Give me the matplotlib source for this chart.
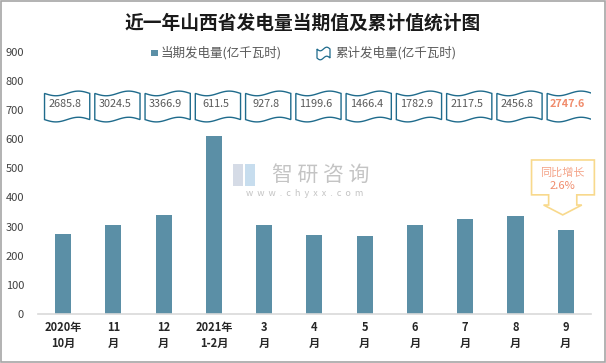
import numpy as np
import matplotlib
matplotlib.use("Agg")
import matplotlib.pyplot as plt
from matplotlib.path import Path
from matplotlib.patches import PathPatch, Rectangle, Polygon

plt.rcParams['font.family'] = ['Noto Sans CJK SC', 'DejaVu Sans']

# 数据
months = ['2020年\n10月', '11\n月', '12\n月', '2021年\n1-2月', '3\n月', '4\n月',
          '5\n月', '6\n月', '7\n月', '8\n月', '9\n月']
current = [274, 305, 339, 611.5, 306, 272, 268, 306, 326, 337, 288]
cumulative = ['2685.8', '3024.5', '3366.9', '611.5', '927.8', '1199.6',
              '1466.4', '1782.9', '2117.5', '2456.8', '2747.6']
yoy = '2.6%'

bar_color = '#5b8fa6'
wave_color = '#1f6b8c'

fig = plt.figure(figsize=(6.06, 3.63), dpi=100)
ax = fig.add_axes([0.0627, 0.1358, 0.9123, 0.7205])

x = np.arange(len(months))
ax.bar(x, current, width=0.32, color=bar_color, zorder=2)

ax.set_xlim(-0.5, len(months) - 0.5)
ax.set_ylim(0, 900)
ax.set_yticks(range(0, 901, 100))
ax.set_xticks(x)
ax.set_xticklabels(months, fontsize=8, fontweight='bold', color='#262626', linespacing=1.35)
ax.tick_params(axis='y', length=0, pad=10, labelsize=8, labelcolor='#404040')
ax.tick_params(axis='x', length=0, pad=5)
for s in ['top', 'right', 'left']:
    ax.spines[s].set_visible(False)
ax.spines['bottom'].set_color('#d9d9d9')
ax.spines['bottom'].set_linewidth(1.2)


# 波浪形累计值标签
def wave_path(cx, cy_top, cy_bot, hw, amp):
    t = np.linspace(0, 1, 40)
    off = -amp * np.sin(2 * np.pi * t)
    xs = cx - hw + 2 * hw * t
    top = np.column_stack([xs, cy_top + off])
    bot = np.column_stack([xs[::-1], cy_bot + off[::-1]])
    verts = np.vstack([top, bot, top[:1]])
    return Path(verts, closed=True)


for i, val in enumerate(cumulative):
    p = wave_path(i + 0.08, 758, 668, 0.45, 8)
    ax.add_patch(PathPatch(p, facecolor='white', edgecolor=wave_color, lw=1.0, zorder=3))
    last = i == len(cumulative) - 1
    ax.text(i + 0.03, 722, val, ha='center', va='center', fontsize=7.8,
            color='#f08c6c' if last else '#595959', zorder=4,
            fontweight='bold' if last else 'normal')

# 同比增长 标注
xl = len(months) - 1
call = [(xl - 0.68, 529), (xl + 0.57, 529), (xl + 0.57, 409), (xl + 0.22, 409),
        (xl + 0.22, 374), (xl + 0.32, 374), (xl - 0.06, 340), (xl - 0.44, 374),
        (xl - 0.34, 374), (xl - 0.34, 409), (xl - 0.68, 409)]
ax.add_patch(Polygon(call, closed=True, facecolor='white', edgecolor='#f8d98c',
                     lw=1.2, zorder=5, clip_on=False))
ax.text(xl - 0.06, 487, '同比增长', ha='center', va='center', fontsize=8,
        color='#f4a58a', zorder=6, clip_on=False)
ax.text(xl - 0.06, 441, yoy, ha='center', va='center', fontsize=8,
        color='#f08c6c', zorder=6, clip_on=False)

# 标题
fig.text(0.5, 1 - 23 / 363, '近一年山西省发电量当期值及累计值统计图', ha='center', va='center',
         fontsize=13.5, fontweight='bold', color='#1a1a1a')

# 图例
ly = 1 - 53 / 363
fig.patches.append(Rectangle((151 / 606, ly - 0.0095), 6.5 / 606, 0.019, transform=fig.transFigure,
                             facecolor=bar_color, edgecolor='none'))
fig.text(161 / 606, ly, '当期发电量(亿千瓦时)', ha='left', va='center', fontsize=9, color='#595959')
t = np.linspace(0, 1, 20)
lx0, lx1 = 317 / 606, 330 / 606
ly_top, ly_bot = ly + 4 / 363, ly - 5 / 363
wav = 0.005 * np.sin(2 * np.pi * t)
lv = np.vstack([np.column_stack([lx0 + (lx1 - lx0) * t, ly_top - wav]),
                np.column_stack([lx1 - (lx1 - lx0) * t, ly_bot - wav[::-1]])])
fig.patches.append(Polygon(lv, closed=True, transform=fig.transFigure,
                           facecolor='white', edgecolor=wave_color, lw=0.9))
fig.text(335 / 606, ly, '累计发电量(亿千瓦时)', ha='left', va='center', fontsize=9, color='#595959')

# 水印
fig.patches.append(Rectangle((233 / 606, 1 - 186 / 363), 10 / 606, 22 / 363,
                             transform=fig.transFigure, facecolor='#d5dbe6', edgecolor='none', zorder=1))
fig.patches.append(Rectangle((245 / 606, 1 - 186 / 363), 10 / 606, 22 / 363,
                             transform=fig.transFigure, facecolor='#c7ddee', edgecolor='none', zorder=1))
fig.text(321 / 606, 1 - 175 / 363, '智 研 咨 询', ha='center', va='center', fontsize=15,
         color='#c4c4c4', zorder=1)
fig.text(305 / 606, 1 - 193 / 363, 'w  w  w  .  c  h  y  x  x  .  c  o  m', ha='center', va='center',
         fontsize=6.5, color='#c4c4c4', zorder=1)

# 外框
fig.patches.append(Rectangle((0.001, 0.002), 0.997, 0.996, transform=fig.transFigure,
                             facecolor='none', edgecolor='#a6a6a6', lw=1.2))

fig.savefig('out.png', dpi=100)
